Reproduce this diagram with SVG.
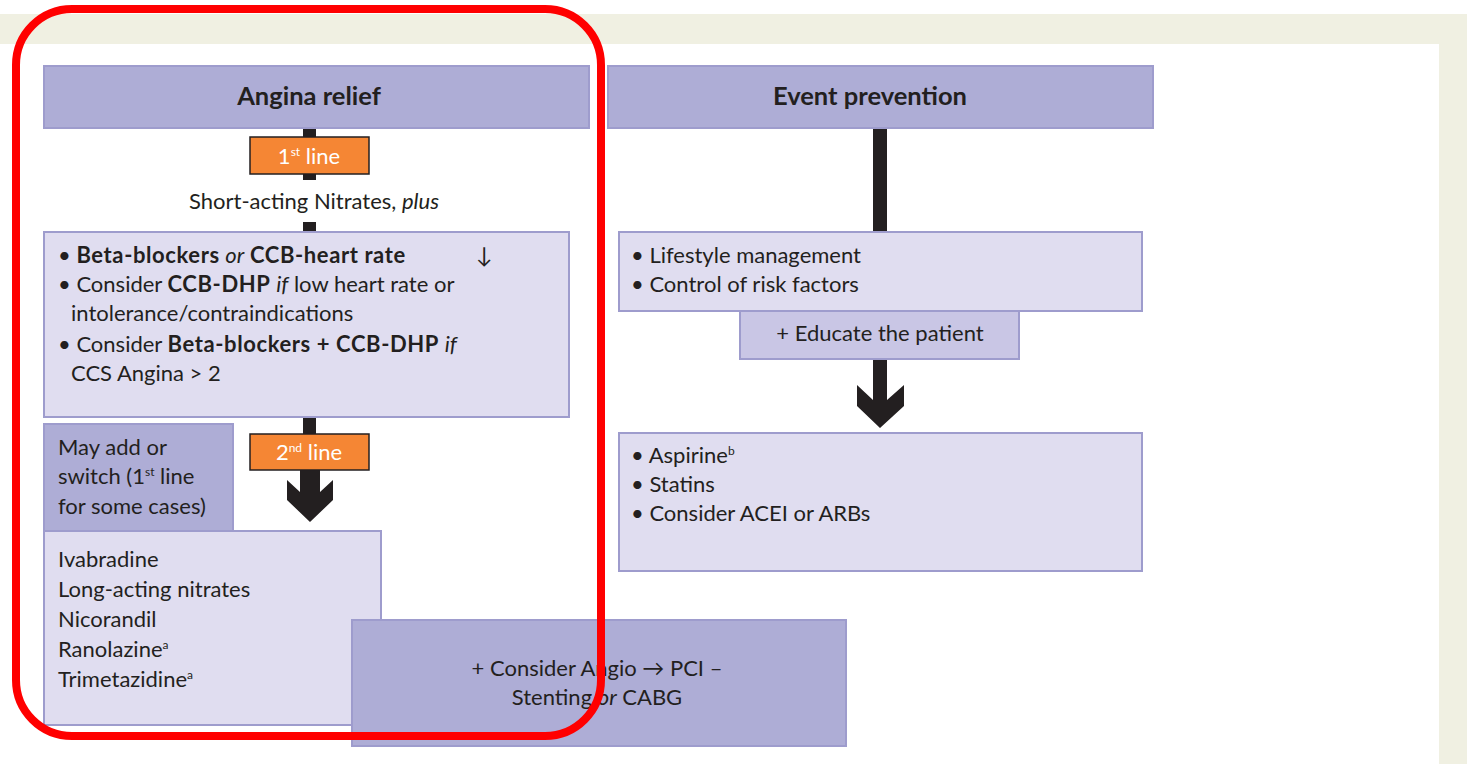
<svg xmlns="http://www.w3.org/2000/svg" width="1467" height="764" viewBox="0 0 1467 764">
  <defs>
    <style>
      text { font-family: Lato, "Open Sans", "Liberation Sans", sans-serif; fill: #231f20; font-size: 22px; }
      .hdr { fill: #aeadd6; stroke: #9e9ccd; stroke-width: 2; }
      .lite { fill: #e0ddf0; stroke: #9e9ccd; stroke-width: 2; }
      .mid { fill: #c9c6e5; stroke: #9e9ccd; stroke-width: 2; }
      .tag { fill: #f58634; stroke: #231f20; stroke-width: 1.5; }
      .tagtxt { fill: #ffffff; font-size: 22px; }
      .title { font-weight: bold; font-size: 25.5px; }
      .bar { fill: #231f20; }
      .b { font-weight: bold; letter-spacing: 0.6px; }
      .sup { font-size: 12px; }
    </style>
  </defs>

  <!-- page background -->
  <rect x="0" y="0" width="1467" height="764" fill="#ffffff"/>
  <rect x="0" y="14" width="1467" height="30" fill="#f0f0e2"/>
  <rect x="1439" y="14" width="28" height="750" fill="#f0f0e2"/>

  <!-- connectors -->
  <g id="connectors">
    <rect class="bar" x="303" y="128" width="13" height="10"/>
    <rect class="bar" x="303" y="173" width="13" height="7"/>
    <rect class="bar" x="303" y="222" width="13" height="10"/>
    <rect class="bar" x="303" y="417" width="13" height="18"/>
    <path class="bar" d="M300,469 H320 V492 L333,480 V500 L310,522 L287,500 V480 L300,492 Z"/>
    <rect class="bar" x="873" y="128" width="14" height="104"/>
    <path class="bar" d="M873,359 H887 V400 L904,385 V406 L880,428 L857,406 V385 L873,400 Z"/>
  </g>

  <!-- Angina relief column -->
  <g id="angina-header">
    <rect class="hdr" x="44" y="66" width="545" height="62"/>
    <text class="title" x="309" y="105" text-anchor="middle">Angina relief</text>
  </g>

  <g id="first-line">
    <rect class="tag" x="250" y="137" width="119" height="37"/>
    <text class="tagtxt" x="309" y="164" text-anchor="middle">1<tspan class="sup" dy="-8">st</tspan><tspan dy="8"> line</tspan></text>
  </g>

  <g id="short-acting">
    <text x="314" y="209" text-anchor="middle">Short-acting Nitrates, <tspan font-style="italic">plus</tspan></text>
  </g>

  <g id="first-line-drugs">
    <rect class="lite" x="44" y="232" width="525" height="185"/>
    <text x="58" y="263">• <tspan class="b">Beta-blockers</tspan> <tspan font-style="italic">or</tspan> <tspan class="b">CCB-heart rate</tspan></text>
    <text x="476" y="263">↓</text>
    <text x="58" y="292">• Consider <tspan class="b">CCB-DHP</tspan> <tspan font-style="italic">if</tspan> low heart rate or</text>
    <text x="71" y="321">intolerance/contraindications</text>
    <text x="58" y="352">• Consider <tspan class="b">Beta-blockers + CCB-DHP</tspan> <tspan font-style="italic">if</tspan></text>
    <text x="71" y="381">CCS Angina &gt; 2</text>
  </g>

  <g id="second-line">
    <rect class="tag" x="250" y="434" width="119" height="36"/>
    <text class="tagtxt" x="309" y="460" text-anchor="middle">2<tspan class="sup" dy="-8">nd</tspan><tspan dy="8"> line</tspan></text>
  </g>

  <g id="may-add">
    <rect class="hdr" x="44" y="424" width="189" height="107"/>
    <text x="58" y="455">May add or</text>
    <text x="58" y="484">switch (1<tspan class="sup" dy="-8">st</tspan><tspan dy="8"> line</tspan></text>
    <text x="58" y="514">for some cases)</text>
  </g>

  <g id="second-line-drugs">
    <rect class="lite" x="44" y="531" width="337" height="194"/>
    <text x="58" y="567">Ivabradine</text>
    <text x="58" y="597">Long-acting nitrates</text>
    <text x="58" y="627">Nicorandil</text>
    <text x="58" y="657">Ranolazine<tspan class="sup" dy="-8">a</tspan></text>
    <text x="58" y="687">Trimetazidine<tspan class="sup" dy="-8">a</tspan></text>
  </g>

  <g id="revascularisation">
    <rect class="hdr" x="352" y="620" width="494" height="126"/>
    <text x="597" y="676" text-anchor="middle">+ Consider Angio → PCI –</text>
    <text x="597" y="705" text-anchor="middle">Stenting <tspan font-style="italic">or</tspan> CABG</text>
  </g>

  <!-- Event prevention column -->
  <g id="event-header">
    <rect class="hdr" x="608" y="66" width="545" height="62"/>
    <text class="title" x="870" y="105" text-anchor="middle">Event prevention</text>
  </g>

  <g id="lifestyle">
    <rect class="lite" x="619" y="232" width="523" height="79"/>
    <text x="631" y="263">• Lifestyle management</text>
    <text x="631" y="292">• Control of risk factors</text>
  </g>

  <g id="educate">
    <rect class="mid" x="740" y="311" width="279" height="48"/>
    <text x="880" y="341" text-anchor="middle">+ Educate the patient</text>
  </g>

  <g id="drugs-prevention">
    <rect class="lite" x="619" y="433" width="523" height="138"/>
    <text x="631" y="463">• Aspirine<tspan class="sup" dy="-8">b</tspan></text>
    <text x="631" y="492">• Statins</text>
    <text x="631" y="521">• Consider ACEI or ARBs</text>
  </g>

  <!-- highlight outline around the angina column -->
  <g id="highlight">
    <rect x="16" y="9" width="585" height="727" rx="56" ry="56" fill="none" stroke="#ff0000" stroke-width="8"/>
  </g>
</svg>
